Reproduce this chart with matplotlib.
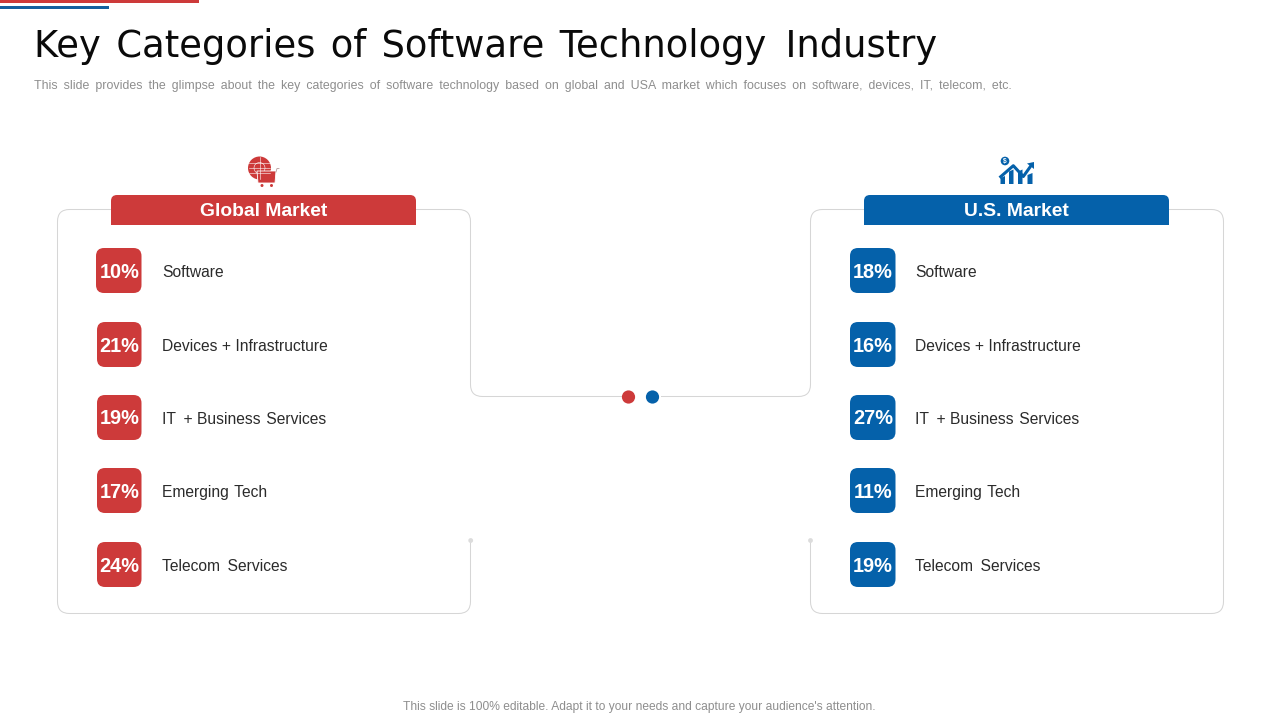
import matplotlib
matplotlib.use("Agg")
import matplotlib.pyplot as plt
from matplotlib.patches import Circle, FancyBboxPatch, PathPatch, Polygon, Rectangle
from matplotlib.path import Path

RED = "#cd3a3a"
BLUE = "#0561aa"
LINE = "#d6d6d6"
TEXT = "#2b2b2b"

# hair and thin spaces widen the gaps the way the slide's text renderer did
HAIR = "\u200a"
THIN = "\u2009"

title = f"Key{HAIR} Categories{HAIR} of{HAIR} Software{HAIR} Technology{THIN} Industry"
subtitle = ("This slide provides the glimpse about the key categories of software technology "
            "based on global and USA market which focuses on software, devices, IT, telecom, etc.").replace(" ", " " + THIN)
footer = "This slide is 100% editable. Adapt it to your needs and capture your audience's attention."

categories = ["Software", "Devices + Infrastructure", f"IT{THIN} + Business{HAIR} Services",
              f"Emerging{HAIR} Tech", f"Telecom{THIN} Services"]
global_values = [10, 21, 19, 17, 24]
us_values = [18, 16, 27, 11, 19]

row_y = [271, 345, 418, 491, 565]

plt.rcParams["font.family"] = ["Liberation Sans", "DejaVu Sans"]

fig = plt.figure(figsize=(12.8, 7.2), dpi=100)
ax = fig.add_axes([0, 0, 1, 1])
ax.set_xlim(0, 1280)
ax.set_ylim(720, 0)
ax.axis("off")


def px(size):
    # font size in pixels -> points
    return size * 0.72


def rounded_path(points, r=12):
    # polyline with rounded corners
    verts = [points[0]]
    codes = [Path.MOVETO]
    for i in range(1, len(points) - 1):
        x0, y0 = points[i - 1]
        x1, y1 = points[i]
        x2, y2 = points[i + 1]
        d1 = max(abs(x1 - x0), abs(y1 - y0))
        d2 = max(abs(x2 - x1), abs(y2 - y1))
        a = (x1 + (x0 - x1) / d1 * r, y1 + (y0 - y1) / d1 * r)
        b = (x1 + (x2 - x1) / d2 * r, y1 + (y2 - y1) / d2 * r)
        verts += [a, (x1, y1), b]
        codes += [Path.LINETO, Path.CURVE3, Path.CURVE3]
    verts.append(points[-1])
    codes.append(Path.LINETO)
    return Path(verts, codes)


def line_path(points):
    ax.add_patch(PathPatch(rounded_path(points), fill=False, ec=LINE, lw=0.75))


def round_box(x0, y0, x1, y1, r, color):
    ax.add_patch(FancyBboxPatch((x0 + r, y0 + r), x1 - x0 - 2 * r, y1 - y0 - 2 * r,
                                boxstyle=f"round,pad={r},rounding_size={r}",
                                fc=color, ec="none", lw=0))


def header(x0, x1, y0, y1, color):
    r = 6
    verts = [(x0, y1), (x0, y0 + r), (x0, y0), (x0 + r, y0), (x1 - r, y0), (x1, y0),
             (x1, y0 + r), (x1, y1), (x0, y1)]
    codes = [Path.MOVETO, Path.LINETO, Path.CURVE3, Path.CURVE3, Path.LINETO, Path.CURVE3,
             Path.CURVE3, Path.LINETO, Path.CLOSEPOLY]
    ax.add_patch(PathPatch(Path(verts, codes), fc=color, ec="none", lw=0))


def panel(offset, name, values, color):
    header(111 + offset, 416 + offset, 195, 225, color)
    ax.text(263.5 + offset, 216.5, name, color="white", fontsize=px(19.3), fontweight="bold",
            ha="center", va="baseline")
    for i, (cat, val, y) in enumerate(zip(categories, values, row_y)):
        left = 96 if offset == 0 and i == 0 else 97
        right = 141.5 if offset == 0 else 142.5
        round_box(left + offset, y - 23, right + offset, y + 22, 8, color)
        ax.text(119.3 + offset + (0.7 if offset else 0), y + 6.5, f"{val}%", color="white",
                fontsize=px(20), fontweight="bold", ha="center", va="baseline")
        ax.text(162 + offset, y + 6, cat, color=TEXT, fontsize=px(15.6), ha="left", va="baseline")


# top accent bars
ax.add_patch(Rectangle((0, 0), 199, 3, fc=RED, ec="none"))
ax.add_patch(Rectangle((0, 6), 109, 3, fc="#14609f", ec="none"))

ax.text(34, 57, title, fontsize=px(36.9), color="#0a0a0a", family="DejaVu Sans",
        ha="left", va="baseline")
ax.text(34, 89, subtitle, fontsize=px(12.38), color="#8e8e8e", ha="left", va="baseline")
ax.text(639, 710, footer, fontsize=px(12), color="#8e8e8e", ha="center", va="baseline")

# outlines
line_path([(111, 209.5), (57.5, 209.5), (57.5, 613.5), (470.5, 613.5), (470.5, 541)])
line_path([(416, 209.5), (470.5, 209.5), (470.5, 396.5), (622, 396.5)])
line_path([(661, 396.5), (810.5, 396.5), (810.5, 209.5), (864, 209.5)])
line_path([(1169, 209.5), (1223.5, 209.5), (1223.5, 613.5), (810.5, 613.5), (810.5, 541)])
ax.add_patch(Circle((470.7, 540.5), 2.4, fc="#dcdcdc", ec="none"))
ax.add_patch(Circle((810.5, 540.5), 2.4, fc="#dcdcdc", ec="none"))
ax.add_patch(Circle((628.5, 397), 6.6, fc=RED, ec="none"))
ax.add_patch(Circle((652.5, 397), 6.6, fc=BLUE, ec="none"))

panel(0, "Global Market", global_values, RED)
panel(753, "U.S. Market", us_values, BLUE)

# globe and cart icon
ax.add_patch(Circle((259.5, 168), 11.5, fc=RED, ec="none"))
for dy in (-5, 0, 5):
    ax.plot([249, 270], [168 + dy, 168 + dy], color="white", lw=0.4)
ax.plot([259.5, 259.5], [157, 179], color="white", lw=0.4)
ax.add_patch(Circle((259.5, 168), 5.5, fc="none", ec="white", lw=0.4))
ax.add_patch(Polygon([(257, 171), (276, 171), (275, 183), (258, 183)], fc=RED, ec="white", lw=0.6))
ax.plot([276, 277, 279], [172, 168.5, 168.5], color="#b59a9a", lw=0.6)
ax.add_patch(Circle((262, 185.5), 1.5, fc=RED, ec="none"))
ax.add_patch(Circle((271.5, 185.5), 1.5, fc=RED, ec="none"))

# chart icon
ax.add_patch(Circle((1005, 161), 4.3, fc=BLUE, ec="none"))
ax.text(1005, 161, "$", color="white", fontsize=4.8, ha="center", va="center", fontweight="bold")
ax.plot([1000.7, 1013.3, 1023.3, 1031.5], [176.7, 165.7, 176.5, 165], color=BLUE, lw=2.2)
ax.add_patch(Polygon([(1027, 163.5), (1034, 162), (1034, 169)], fc=BLUE, ec="none"))
for x0, x1, top in zip([1000.5, 1009, 1018, 1027.5], [1005, 1013.5, 1022.5, 1032.5], [178, 171.5, 171.5, 175]):
    ax.add_patch(Polygon([(x0, 184), (x0, top), (x1, top - 2), (x1, 184)], fc=BLUE, ec="none"))

fig.savefig("out.png", dpi=100)
